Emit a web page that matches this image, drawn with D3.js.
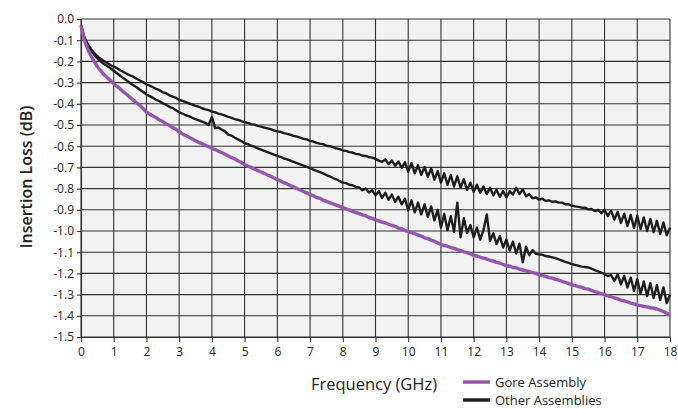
<!DOCTYPE html>
<html>
<head>
<meta charset="utf-8">
<script src="https://cdn.jsdelivr.net/npm/d3@7"></script>
<style>
  body { margin: 0; background: #fff; }
  text { font-family: "Open Sans", "Noto Sans", sans-serif; fill: #222; }
</style>
</head>
<body>
<div id="chart"></div>
<script>
"use strict";

/*** Data */
/** Frequency samples (GHz), every 0.1 from 0 to 18 */
const freqs = d3.range(0, 181).map(i => i / 10);

/** Gore Assembly (dB) */
const gore = [
  -0.030, -0.098, -0.140, -0.172, -0.200, -0.224, -0.244, -0.262, -0.276, -0.290,
  -0.304, -0.318, -0.330, -0.344, -0.356, -0.370, -0.382, -0.396, -0.408, -0.422,
  -0.440, -0.448, -0.458, -0.466, -0.476, -0.484, -0.494, -0.502, -0.512, -0.520,
  -0.532, -0.542, -0.550, -0.558, -0.566, -0.574, -0.582, -0.588, -0.596, -0.602,
  -0.610, -0.616, -0.624, -0.630, -0.638, -0.646, -0.654, -0.660, -0.670, -0.676,
  -0.688, -0.694, -0.700, -0.708, -0.714, -0.722, -0.728, -0.736, -0.742, -0.750,
  -0.758, -0.764, -0.772, -0.778, -0.786, -0.792, -0.800, -0.806, -0.814, -0.820,
  -0.828, -0.834, -0.842, -0.846, -0.854, -0.860, -0.866, -0.872, -0.878, -0.884,
  -0.890, -0.896, -0.900, -0.908, -0.912, -0.918, -0.924, -0.928, -0.936, -0.940,
  -0.948, -0.952, -0.958, -0.962, -0.968, -0.974, -0.978, -0.986, -0.990, -0.998,
  -1.002, -1.008, -1.012, -1.020, -1.024, -1.032, -1.036, -1.044, -1.048, -1.056,
  -1.064, -1.068, -1.072, -1.078, -1.082, -1.088, -1.092, -1.098, -1.102, -1.108,
  -1.114, -1.118, -1.124, -1.128, -1.132, -1.138, -1.142, -1.148, -1.152, -1.158,
  -1.164, -1.166, -1.172, -1.174, -1.180, -1.184, -1.188, -1.192, -1.196, -1.200,
  -1.206, -1.210, -1.214, -1.220, -1.222, -1.228, -1.232, -1.238, -1.242, -1.248,
  -1.254, -1.258, -1.262, -1.266, -1.272, -1.274, -1.280, -1.286, -1.290, -1.296,
  -1.300, -1.306, -1.310, -1.316, -1.320, -1.326, -1.330, -1.334, -1.340, -1.344,
  -1.350, -1.352, -1.356, -1.358, -1.362, -1.364, -1.368, -1.374, -1.380, -1.388,
  -1.394
];

/** Other assembly, upper trace (dB) */
const otherA = [
  -0.030, -0.085, -0.118, -0.140, -0.160, -0.176, -0.188, -0.198, -0.207, -0.217,
  -0.225, -0.232, -0.242, -0.250, -0.258, -0.266, -0.272, -0.282, -0.290, -0.298,
  -0.308, -0.314, -0.322, -0.330, -0.336, -0.346, -0.350, -0.360, -0.366, -0.372,
  -0.382, -0.386, -0.392, -0.398, -0.404, -0.410, -0.414, -0.421, -0.426, -0.430,
  -0.437, -0.440, -0.446, -0.450, -0.456, -0.462, -0.466, -0.472, -0.476, -0.482,
  -0.487, -0.490, -0.496, -0.498, -0.504, -0.508, -0.512, -0.516, -0.520, -0.526,
  -0.530, -0.532, -0.538, -0.542, -0.546, -0.551, -0.555, -0.560, -0.565, -0.568,
  -0.575, -0.578, -0.584, -0.588, -0.590, -0.598, -0.600, -0.604, -0.610, -0.614,
  -0.620, -0.622, -0.628, -0.630, -0.636, -0.638, -0.645, -0.646, -0.652, -0.654,
  -0.660, -0.668, -0.674, -0.662, -0.684, -0.668, -0.692, -0.672, -0.702, -0.676,
  -0.720, -0.680, -0.728, -0.690, -0.735, -0.698, -0.745, -0.705, -0.758, -0.718,
  -0.772, -0.728, -0.782, -0.736, -0.790, -0.742, -0.796, -0.756, -0.806, -0.772,
  -0.815, -0.782, -0.820, -0.790, -0.826, -0.796, -0.832, -0.806, -0.840, -0.812,
  -0.842, -0.812, -0.828, -0.796, -0.826, -0.804, -0.836, -0.826, -0.846, -0.842,
  -0.852, -0.848, -0.858, -0.856, -0.862, -0.860, -0.866, -0.866, -0.874, -0.874,
  -0.880, -0.884, -0.886, -0.890, -0.890, -0.898, -0.896, -0.906, -0.900, -0.916,
  -0.900, -0.930, -0.904, -0.946, -0.910, -0.962, -0.918, -0.976, -0.924, -0.986,
  -0.928, -0.992, -0.936, -1.000, -0.944, -1.006, -0.952, -1.014, -0.960, -1.020,
  -0.984
];

/** Other assembly, lower trace (dB) */
const otherB = [
  -0.030, -0.088, -0.122, -0.146, -0.168, -0.186, -0.200, -0.212, -0.222, -0.232,
  -0.244, -0.256, -0.268, -0.280, -0.290, -0.302, -0.312, -0.322, -0.334, -0.344,
  -0.356, -0.364, -0.372, -0.382, -0.388, -0.398, -0.404, -0.414, -0.420, -0.430,
  -0.440, -0.446, -0.454, -0.458, -0.466, -0.472, -0.478, -0.484, -0.490, -0.500,
  -0.462, -0.515, -0.512, -0.522, -0.530, -0.545, -0.550, -0.560, -0.568, -0.576,
  -0.586, -0.590, -0.598, -0.602, -0.610, -0.616, -0.622, -0.628, -0.634, -0.640,
  -0.646, -0.650, -0.658, -0.662, -0.668, -0.674, -0.680, -0.686, -0.692, -0.698,
  -0.704, -0.710, -0.716, -0.722, -0.728, -0.736, -0.742, -0.750, -0.756, -0.764,
  -0.772, -0.774, -0.782, -0.784, -0.792, -0.794, -0.808, -0.800, -0.818, -0.808,
  -0.832, -0.812, -0.844, -0.820, -0.852, -0.828, -0.862, -0.838, -0.874, -0.848,
  -0.902, -0.856, -0.912, -0.866, -0.922, -0.874, -0.934, -0.884, -0.950, -0.900,
  -0.984, -0.920, -0.996, -0.930, -1.004, -0.866, -1.030, -0.940, -1.010, -0.972,
  -1.030, -0.984, -1.040, -0.996, -0.922, -1.046, -1.010, -1.062, -1.024, -1.078,
  -1.040, -1.092, -1.050, -1.106, -1.060, -1.148, -1.074, -1.114, -1.090, -1.108,
  -1.110, -1.112, -1.118, -1.120, -1.124, -1.128, -1.134, -1.140, -1.146, -1.150,
  -1.156, -1.160, -1.164, -1.168, -1.170, -1.172, -1.178, -1.184, -1.190, -1.196,
  -1.204, -1.212, -1.208, -1.236, -1.204, -1.252, -1.212, -1.266, -1.220, -1.282,
  -1.228, -1.296, -1.238, -1.306, -1.246, -1.316, -1.256, -1.326, -1.266, -1.340,
  -1.300
];

/** Axis ticks */
const xTicks = d3.range(0, 19);
const yTicks = d3.range(0, 16).map(i => -i / 10);

/** Legend */
const legendNames = ["Gore Assembly", "Other Assemblies"];

/*** Layout */
const w = 678;
const h = 409;
const plotLeft = 81, plotRight = 670, plotTop = 19, plotBottom = 337;

const purple = "#9457ae";
const dark = "#1e1e1e";

const svg = d3.select("#chart")
    .append("svg")
    .attr("width", w)
    .attr("height", h);

const x = d3.scaleLinear().domain([0, 18]).range([plotLeft, plotRight]);
const y = d3.scaleLinear().domain([-1.5, 0]).range([plotBottom, plotTop]);

/** Plot background */
svg.append("rect")
    .attr("x", plotLeft)
    .attr("y", plotTop)
    .attr("width", plotRight - plotLeft)
    .attr("height", plotBottom - plotTop)
    .style("fill", "#f2f2f2");

/** Grid */
svg.append("g")
    .selectAll("line")
    .data(xTicks)
    .enter()
    .append("line")
    .attr("x1", d => x(d))
    .attr("x2", d => x(d))
    .attr("y1", plotTop)
    .attr("y2", plotBottom)
    .style("stroke", "#333")
    .style("stroke-width", 1.1);

svg.append("g")
    .selectAll("line")
    .data(yTicks)
    .enter()
    .append("line")
    .attr("x1", plotLeft)
    .attr("x2", plotRight)
    .attr("y1", d => y(d))
    .attr("y2", d => y(d))
    .style("stroke", "#333")
    .style("stroke-width", 1.1);

/** Axes */
const xAxis = d3.axisBottom(x)
    .tickValues(xTicks)
    .tickFormat(d3.format("d"))
    .tickSize(5)
    .tickPadding(5);

const yAxis = d3.axisLeft(y)
    .tickValues(yTicks)
    .tickFormat(d => d3.format(".1f")(d).replace("\u2212", "-"))
    .tickSize(4)
    .tickPadding(3);

const gx = svg.append("g")
    .attr("transform", "translate(0," + plotBottom + ")")
    .call(xAxis);

const gy = svg.append("g")
    .attr("transform", "translate(" + plotLeft + ",0)")
    .call(yAxis);

[gx, gy].forEach(g => {
    g.select(".domain").style("stroke", "#333").style("stroke-width", 1.1);
    g.selectAll(".tick line").style("stroke", "#333").style("stroke-width", 1.1);
    g.selectAll(".tick text")
        .style("font-family", "'Open Sans', 'Noto Sans', sans-serif")
        .style("font-size", "12px")
        .style("font-weight", 500)
        .style("fill", "#222");
});

/** Lines */
const line = d3.line()
    .x((d, i) => x(freqs[i]))
    .y(d => y(d));

svg.append("path")
    .datum(otherA)
    .attr("d", line)
    .style("fill", "none")
    .style("stroke", dark)
    .style("stroke-width", 2.4)
    .style("stroke-linejoin", "round");

svg.append("path")
    .datum(otherB)
    .attr("d", line)
    .style("fill", "none")
    .style("stroke", dark)
    .style("stroke-width", 2.4)
    .style("stroke-linejoin", "round");

svg.append("path")
    .datum(gore)
    .attr("d", line)
    .style("fill", "none")
    .style("stroke", purple)
    .style("stroke-width", 3.4)
    .style("stroke-linejoin", "round");

/** Axis titles */
svg.append("text")
    .attr("x", 374)
    .attr("y", 390)
    .attr("text-anchor", "middle")
    .style("font-size", "16.5px")
    .style("font-weight", 500)
    .text("Frequency (GHz)");

svg.append("text")
    .attr("transform", "translate(32,177) rotate(-90)")
    .attr("text-anchor", "middle")
    .style("font-size", "16px")
    .style("font-weight", 600)
    .text("Insertion Loss (dB)");

/** Legend */
const legend = svg.append("g")
    .selectAll("g")
    .data(legendNames)
    .enter()
    .append("g")
    .attr("transform", (d, i) => "translate(463," + (382 + i * 18) + ")");

legend.append("line")
    .attr("x1", 0)
    .attr("x2", 27)
    .style("stroke", (d, i) => i === 0 ? purple : dark)
    .style("stroke-width", 3.5);

legend.append("text")
    .attr("x", 32)
    .attr("y", 5)
    .style("font-size", "13px")
    .style("font-weight", 500)
    .text(d => d);
</script>
</body>
</html>
